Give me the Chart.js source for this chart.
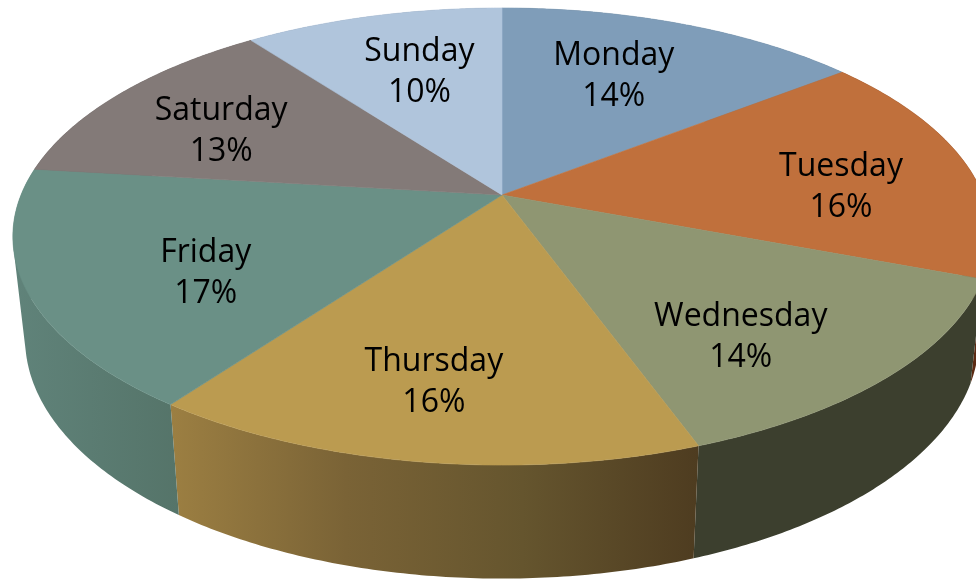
<!DOCTYPE html>
<html>
<head>
<meta charset="utf-8">
<title>Days of the week</title>
<script src="https://cdn.jsdelivr.net/npm/chart.js@4/dist/chart.umd.min.js"></script>
<style>
    html, body { margin: 0; padding: 0; background: #fff; overflow: hidden; }
    canvas { display: block; }
</style>
</head>
<body>
<canvas id="pieChart" width="976" height="579"></canvas>
<script>
var day_labels = ["Monday", "Tuesday", "Wednesday", "Thursday", "Friday", "Saturday", "Sunday"];
var day_shares = [14.4, 16.4, 13.7, 15.5, 16.9, 12.9, 10.2];

var top_colors = ["#7f9db9", "#c0703c", "#8f9672", "#bb9b50", "#6a9086", "#837a78", "#b0c5dc"];
var wall_colors = [
    ["#4f6478", "#4f6478"],
    ["#5c2a12", "#5c2a12"],
    ["#3c3f2e", "#3c3f2e"],
    ["#9c7f42", "#7a6336", "#65552e", "#4e3c20"],
    ["#60837a", "#557469"],
    ["#5a5250", "#5a5250"],
    ["#7a8a9c", "#7a8a9c"],
];

// label placement on the disc: angle shift (degrees) and radius fraction
var label_shift = [-2.9, 5, 6.4, 1.5, -5.6, -2.9, 1.5];
var label_radius = [0.66, 0.712, 0.722, 0.737, 0.664, 0.694, 0.66];

// the disc seen in perspective
var view = { cx: 502, cy: 195, a: 481, b: 221, p: 0.1817 };
var floor = { cy: 295, sx: 0.975, sy: 1.05 };

function topPoint(angle, r) {
    var x = Math.cos(angle) * r;
    var y = -Math.sin(angle) * r;
    var w = 1 + view.p * y;
    return { x: view.cx + (view.a * x) / w, y: view.cy - (view.b * y) / w };
}

function floorPoint(angle) {
    var p = topPoint(angle, 1);
    return {
        x: view.cx + (p.x - view.cx) * floor.sx,
        y: floor.cy + (p.y - view.cy) * floor.sy,
    };
}

function arcPoints(fn, start, end) {
    var steps = 90;
    var points = [];
    for (var i = 0; i <= steps; i++) {
        points.push(fn(start + ((end - start) * i) / steps));
    }
    return points;
}

function signedArea(quad) {
    var sum = 0;
    quad.forEach(function (p, i) {
        var q = quad[(i + 1) % quad.length];
        sum += p.x * q.y - q.x * p.y;
    });
    return sum;
}

var tiltedPie = {
    id: "tiltedPie",
    beforeDatasetDraw: function (chart) {
        var ctx = chart.ctx;
        var arcs = chart.getDatasetMeta(0).data;

        // side walls first, the top covers whatever is behind it
        arcs.forEach(function (arc, i) {
            var upper = arcPoints(function (a) { return topPoint(a, 1); }, arc.startAngle, arc.endAngle);
            var lower = arcPoints(floorPoint, arc.startAngle, arc.endAngle);
            var xs = upper.concat(lower).map(function (p) { return p.x; });
            var gradient = ctx.createLinearGradient(Math.min.apply(null, xs), 0, Math.max.apply(null, xs), 0);
            wall_colors[i].forEach(function (color, k) {
                gradient.addColorStop(k / (wall_colors[i].length - 1), color);
            });
            // one path of same-wound quads, so it still fills where the strip turns at the silhouette
            ctx.beginPath();
            for (var k = 0; k < upper.length - 1; k++) {
                var quad = [upper[k], upper[k + 1], lower[k + 1], lower[k]];
                if (signedArea(quad) < 0) quad.reverse();
                ctx.moveTo(quad[0].x, quad[0].y);
                ctx.lineTo(quad[1].x, quad[1].y);
                ctx.lineTo(quad[2].x, quad[2].y);
                ctx.lineTo(quad[3].x, quad[3].y);
                ctx.closePath();
            }
            ctx.fillStyle = gradient;
            ctx.fill();
        });

        arcs.forEach(function (arc) {
            var color = arc.options.backgroundColor;
            ctx.beginPath();
            ctx.moveTo(view.cx, view.cy);
            arcPoints(function (a) { return topPoint(a, 1); }, arc.startAngle, arc.endAngle).forEach(function (p) {
                ctx.lineTo(p.x, p.y);
            });
            ctx.closePath();
            ctx.fillStyle = color;
            ctx.strokeStyle = color;
            ctx.lineWidth = 0.6;
            ctx.fill();
            ctx.stroke();
        });
        return false;
    },
    afterDatasetsDraw: function (chart) {
        var ctx = chart.ctx;
        ctx.save();
        ctx.font = "32px 'Open Sans'";
        ctx.fillStyle = "#000";
        ctx.textAlign = "center";
        ctx.textBaseline = "middle";
        chart.getDatasetMeta(0).data.forEach(function (arc, i) {
            var mid = (arc.startAngle + arc.endAngle) / 2 + (label_shift[i] * Math.PI) / 180;
            var p = topPoint(mid, label_radius[i]);
            ctx.fillText(day_labels[i], p.x, p.y - 18);
            ctx.fillText(Math.round(day_shares[i]) + "%", p.x, p.y + 23);
        });
        ctx.restore();
    },
};

new Chart(document.getElementById("pieChart").getContext("2d"), {
    type: "pie",
    data: {
        labels: day_labels,
        datasets: [
            {
                data: day_shares,
                backgroundColor: top_colors,
            },
        ],
    },
    options: {
        responsive: false,
        animation: false,
        plugins: {
            legend: { display: false },
            tooltip: { enabled: false },
        },
    },
    plugins: [tiltedPie],
});
</script>
</body>
</html>
